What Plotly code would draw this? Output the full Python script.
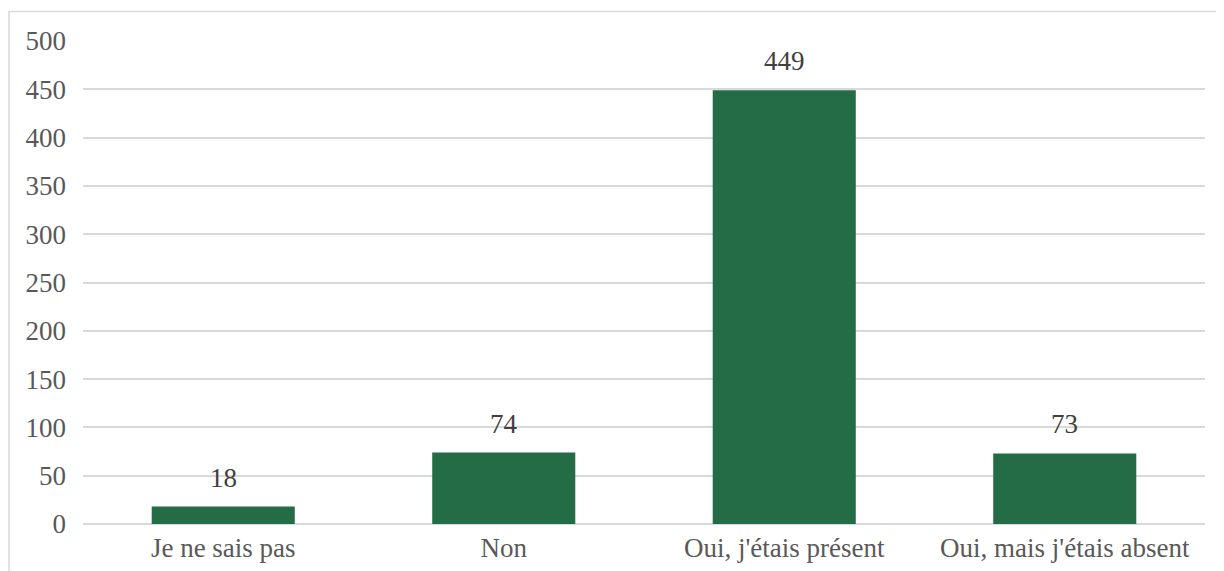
import plotly.graph_objects as go

categories = ["Je ne sais pas", "Non", "Oui, j'étais présent", "Oui, mais j'étais absent"]
values = [18, 74, 449, 73]
y_ticks = [0, 50, 100, 150, 200, 250, 300, 350, 400, 450, 500]

W, H = 1224, 571
# page body adds an 8px offset, so margins are measured from (8, 8)
ml, mr, mt, mb = 75, 27, 33, 55
pw, ph = W - ml - mr, H - mt - mb

FONT = "Liberation Serif"
TXT = "#595959"
FS = 27

fig = go.Figure(go.Bar(
    x=categories, y=values,
    marker=dict(color="#236c46", line=dict(width=0)),
    cliponaxis=False,
))

for c, v in zip(categories, values):
    fig.add_annotation(x=c, y=v, text=str(v), showarrow=False, yanchor="bottom",
                       yshift=12, font=dict(family=FONT, size=FS, color="#404040"))

# outer chart frame (left and top edges visible)
fx0 = (1 - ml) / pw
fx1 = (W + 10 - ml) / pw
fy1 = (H - mb - 3.5) / ph
fy0 = -(mb + 20) / ph
fig.add_shape(type="rect", xref="paper", yref="paper", x0=fx0, x1=fx1, y0=fy0, y1=fy1,
              line=dict(color="#d9d9d9", width=1.5), fillcolor="rgba(0,0,0,0)", layer="below")

fig.update_layout(
    width=W, height=H,
    margin=dict(l=ml, r=mr, t=mt, b=mb, pad=0),
    paper_bgcolor="white", plot_bgcolor="white",
    bargap=0.49, showlegend=False,
    font=dict(family=FONT, size=FS, color=TXT),
)
fig.update_yaxes(range=[0, 500], tickvals=y_ticks, showgrid=True, gridcolor="#d9d9d9", gridwidth=1.5,
                 zeroline=True, zerolinecolor="#d9d9d9", zerolinewidth=1.5, showline=False,
                 ticks="", ticklabelstandoff=16, tickfont=dict(family=FONT, size=FS, color=TXT))
fig.update_xaxes(showline=False, ticks="", ticklabelstandoff=5,
                 tickfont=dict(family=FONT, size=FS, color=TXT))

fig.write_html("out.html")
